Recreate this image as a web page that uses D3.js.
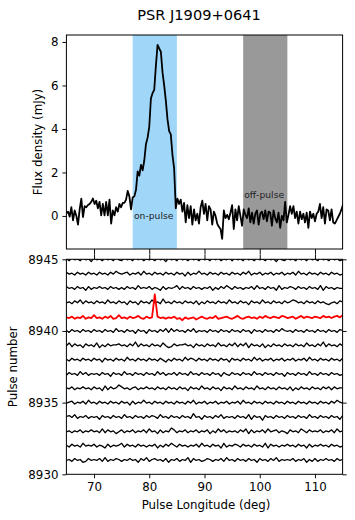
<!DOCTYPE html>
<html><head><meta charset="utf-8">
<script src="https://cdn.jsdelivr.net/npm/d3@7"></script>
<style>body{margin:0;background:#fff} svg{display:block} text{font-family:"DejaVu Sans",sans-serif}</style>
</head><body><svg id="c" width="355" height="520"></svg>
<script>
const titleText = "PSR J1909+0641";
const xLabel = "Pulse Longitude (deg)";
const fluxLabel = "Flux density (mJy)";
const pulseLabel = "Pulse number";
const onLabel = "on-pulse", offLabel = "off-pulse";

// integrated profile: longitude grid start/step and flux values (mJy)
const profileStart = 65, profileStep = 0.3;
const profileFlux = [
 0.12,0.2,-0.03,0.4,-0.2,0.25,0.0,-0.4,0.3,0.8,
 -0.05,0.45,0.4,0.5,0.55,0.65,0.8,0.55,0.7,0.35,
 0.65,0.03,0.55,0.03,0.65,0.03,0.75,-0.35,0.25,0.03,
 0.4,0.2,0.55,0.4,0.6,0.6,0.75,1.15,0.9,0.3,
 0.85,0.9,1.2,2.05,1.85,2.35,2.1,2.55,3.3,3.6,
 4.1,5.4,5.65,5.8,6.9,7.86,7.7,7.55,6.6,6.0,
 5.3,4.45,3.9,3.75,2.8,2.2,0.35,0.8,0.55,0.75,
 0.2,0.6,-0.3,0.5,-0.1,0.45,-0.4,0.3,-0.2,0.1,
 -0.35,0.4,0.7,0.1,0.55,-0.2,0.45,0.3,-0.4,0.2,
 0.0,-0.35,-0.5,-0.6,-1.05,0.25,-0.1,0.05,-0.15,0.15,
 0.5,-0.6,0.3,-0.2,0.45,0.0,-0.45,0.3,0.05,-0.1,
 0.35,-0.3,0.15,-0.35,0.1,0.25,-0.4,0.1,0.2,-0.15,
 0.25,-0.25,0.2,0.15,-0.45,0.25,-0.1,-0.3,0.15,-0.55,
 0.0,-0.2,0.65,-0.3,0.05,0.45,0.1,0.45,-0.1,0.2,
 -0.35,0.2,-0.15,0.1,-0.3,0.15,-0.55,0.2,-0.1,0.1,
 -0.25,0.1,0.2,0.55,-0.1,0.4,-0.35,0.3,0.25,-0.2,
 0.3,-0.3,-0.35,-0.2,-0.05,0.1,0.3,0.55];

const onPulseRange = [77, 85];
const offPulseRange = [97, 105];
const xTicks = [70, 80, 90, 100, 110];
const fluxTicks = [0, 2, 4, 6, 8];
const pulseTicks = [8930, 8935, 8940, 8945];

// single pulses: one digit string per pulse (digit = level 0..9 around the pulse number), step 0.5 deg
const rowStart = 65, rowStep = 0.5, digitUnit = 0.065;
const pulseNumbers = [8931, 8932, 8933, 8934, 8935, 8936, 8937, 8938, 8939, 8940, 8942, 8943, 8944, 8945];
const pulseRows = [
 "4536452364 5463735465 3546452647 3564536254 6354726453 4653546374 5364536452 6453647354 5463546253 6354645364 5",
 "5364537454 6354263545 7364536453 5462536475 3645354637 4536452735 4653645364 5372645354 6453645263 5464536453 4",
 "4535463546 4537364524 6354635463 7452635486 3546354635 4625374635 4536472635 4637456354 2645375364 5463546374 5",
 "5647354635 4526453645 3745364536 4653745364 5364538452 6453647354 5364537264 5164536453 6453645374 5364536452 6",
 "4563546374 5364536453 6452635474 5364536453 6453647354 6354635463 5463745364 5364536453 6453645364 5364536475 4",
 "5463546453 6452736458 6453563546 4536453645 3645264537 4536452645 3745364537 4536453645 3625364536 4536463645 5",
 "3645374635 4536452645 3745364536 4537463546 3645374536 4536452643 6453645374 5364536452 6453645374 5364536453 4",
 "5364536453 6452645364 5374536453 6453642536 4537465364 5364536452 6453645374 6354635463 5463546374 5364536453 6",
 "4736452645 3725364556 4536483645 3645374236 4556452645 3645374536 4736472645 3625364536 4536453745 3648364536 4",
 "5364536453 6453645374 5364526452 6453647374 6453647354 5364536453 6453645264 5364536475 4536453645 3645364536 5",
 "4536473645 3645374536 4526452645 3745384536 4536453625 3645364537 4536452645 3745364536 4576453645 3645324536 5",
 "6453645263 5464536453 5364537454 6354263545 7364536453 5462536475 3645354637 4536452735 4653645364 5372645354 4",
 "6453645364 5364536475 4563546374 5364536453 6452635474 5364536453 6453647354 6354635463 5463745364 5364536453 4",
 "5364536452 6453645374 3645374635 4536452645 3745364536 4537463546 3645374536 4536452643 6453645374 5364536453 4"
];
// highlighted pulse (offset from its pulse number), step 0.5 deg
const highlightPulse = 8941;
const highlightRow = [
 -0.05,-0.1,0.0,-0.15,-0.05,-0.1,0.05,-0.15,-0.05,-0.1,
 0.1,-0.1,-0.05,-0.15,0.0,-0.1,0.05,-0.15,-0.1,0.1,
 -0.1,-0.05,-0.15,0.0,-0.1,-0.05,0.05,-0.1,-0.15,0.0,
 -0.1,-0.05,1.55,0.0,-0.1,-0.05,-0.15,-0.05,-0.1,0.0,
 -0.15,-0.1,-0.25,-0.05,-0.15,-0.1,-0.05,-0.2,-0.1,0.0,
 -0.1,-0.15,-0.05,-0.1,0.05,-0.15,-0.1,-0.05,0.0,-0.1,
 -0.15,-0.05,0.05,-0.1,-0.15,-0.05,0.0,-0.1,-0.05,-0.15,
 0.0,-0.1,0.05,-0.05,-0.1,0.0,-0.05,-0.1,0.05,0.0,
 -0.1,-0.05,0.0,-0.15,-0.05,0.05,-0.1,0.0,-0.05,-0.1,
 0.0,-0.05,-0.1,0.05,-0.05,0.0,-0.1,0.0,0.05,-0.05,
 0.1];

const svg = d3.select("#c");
const L = 66.4, R = 342.6;
const topT = 35, topB = 249, botT = 259.3, botB = 474.3;
const FS = 11.8;

const x = d3.scaleLinear().domain([65, 115]).range([L, R]);
const yTop = d3.scaleLinear().domain([-1.52, 8.32]).range([topB, topT]);
const yBot = d3.scaleLinear().domain([8930, 8945]).range([botB, botT]);

const defs = svg.append("defs");
defs.append("clipPath").attr("id", "clipTop").append("rect").attr("x", L).attr("y", topT).attr("width", R - L).attr("height", topB - topT);
defs.append("clipPath").attr("id", "clipBot").append("rect").attr("x", L).attr("y", botT).attr("width", R - L).attr("height", botB - botT);

// title
svg.append("text").attr("x", 199).attr("y", 20).attr("text-anchor", "middle").attr("font-size", 14.6).attr("fill", "#000").text(titleText);

// ---- top panel ----
const gTop = svg.append("g");
const gTopClip = gTop.append("g").attr("clip-path", "url(#clipTop)");
gTopClip.append("rect").attr("x", x(onPulseRange[0])).attr("width", x(onPulseRange[1]) - x(onPulseRange[0]))
  .attr("y", topT).attr("height", topB - topT).attr("fill", "#a0d7f9");
gTopClip.append("rect").attr("x", x(offPulseRange[0])).attr("width", x(offPulseRange[1]) - x(offPulseRange[0]))
  .attr("y", topT).attr("height", topB - topT).attr("fill", "#999999");

const profLine = d3.line().x((d, i) => x(profileStart + i * profileStep)).y(d => yTop(d));
gTopClip.append("path").datum(profileFlux).attr("d", profLine).attr("fill", "none")
  .attr("stroke", "#000").attr("stroke-width", 1.8).attr("stroke-linejoin", "round");

gTop.append("text").attr("x", x(onPulseRange[0]) + 1.3).attr("y", yTop(0) + 3.5).attr("font-size", 9.2).attr("fill", "#222").text(onLabel);
gTop.append("text").attr("x", x(offPulseRange[0]) + 1).attr("y", yTop(1) + 3.4).attr("font-size", 9.2).attr("fill", "#222").text(offLabel);

gTop.append("rect").attr("x", L).attr("y", topT).attr("width", R - L).attr("height", topB - topT)
  .attr("fill", "none").attr("stroke", "#000").attr("stroke-width", 1);

function styleAxis(g) {
  g.select(".domain").remove();
  g.selectAll(".tick line").attr("stroke", "#000").attr("stroke-width", 0.95);
  g.selectAll("text").attr("font-family", "DejaVu Sans").attr("font-size", FS).attr("fill", "#000");
}
gTop.append("g").attr("transform", `translate(${L},0)`)
  .call(d3.axisLeft(yTop).tickValues(fluxTicks).tickSize(4).tickPadding(4)).call(styleAxis);
gTop.append("g").attr("transform", `translate(0,${topB})`)
  .call(d3.axisBottom(x).tickValues(xTicks).tickSize(5).tickFormat("")).call(styleAxis);

// ---- bottom panel ----
const gBot = svg.append("g");
const gBotClip = gBot.append("g").attr("clip-path", "url(#clipBot)");
const rowLine = d3.line().x(d => x(d.lon)).y(d => yBot(d.v));
pulseNumbers.forEach((p, k) => {
  const digits = pulseRows[k].replace(/ /g, "").split("");
  const pts = digits.map((c, i) => ({lon: rowStart + i * rowStep, v: p + (+c - 4.5) * digitUnit}));
  gBotClip.append("path").datum(pts).attr("d", rowLine).attr("fill", "none")
    .attr("stroke", "#000").attr("stroke-width", 1.3).attr("stroke-linejoin", "round");
});
const hPts = highlightRow.map((v, i) => ({lon: rowStart + i * rowStep, v: highlightPulse + v}));
gBotClip.append("path").datum(hPts).attr("d", rowLine).attr("fill", "none")
  .attr("stroke", "#ff0000").attr("stroke-width", 1.8).attr("stroke-linejoin", "round");

gBot.append("rect").attr("x", L).attr("y", botT).attr("width", R - L).attr("height", botB - botT)
  .attr("fill", "none").attr("stroke", "#000").attr("stroke-width", 1);

gBot.append("g").attr("transform", `translate(${L},0)`)
  .call(d3.axisLeft(yBot).tickValues(pulseTicks).tickSize(4).tickPadding(4).tickFormat(d3.format("d"))).call(styleAxis);
gBot.append("g").attr("transform", `translate(${R},0)`)
  .call(d3.axisRight(yBot).tickValues(pulseTicks).tickSize(4).tickFormat("")).call(styleAxis);
gBot.append("g").attr("transform", `translate(0,${botB})`)
  .call(d3.axisBottom(x).tickValues(xTicks).tickSize(4).tickPadding(4.5)).call(styleAxis);
gBot.append("g").attr("transform", `translate(0,${botT})`)
  .call(d3.axisTop(x).tickValues(xTicks).tickSize(5).tickFormat("")).call(styleAxis);

// axis labels
svg.append("text").attr("x", 206).attr("y", 508.5).attr("text-anchor", "middle").attr("font-size", FS).attr("fill", "#000").text(xLabel);
svg.append("text").attr("transform", `translate(41.5,${(topT + topB) / 2}) rotate(-90)`).attr("text-anchor", "middle")
  .attr("font-size", FS).attr("fill", "#000").text(fluxLabel);
svg.append("text").attr("transform", `translate(16.5,${(botT + botB) / 2}) rotate(-90)`).attr("text-anchor", "middle")
  .attr("font-size", FS).attr("fill", "#000").text(pulseLabel);
</script></body></html>
